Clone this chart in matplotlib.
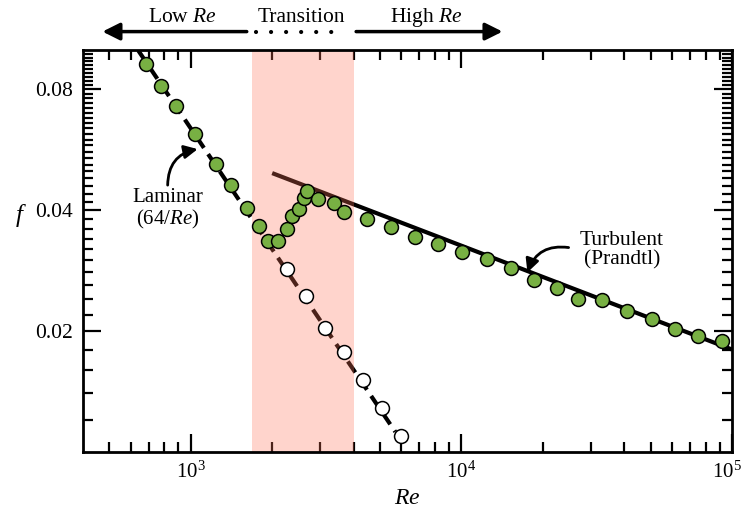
import numpy as np
import matplotlib.pyplot as plt
from matplotlib.ticker import FixedLocator, NullFormatter, FixedFormatter
from matplotlib.transforms import ScaledTranslation

plt.rcParams['font.family'] = 'Liberation Serif'
plt.rcParams['mathtext.fontset'] = 'custom'
plt.rcParams['mathtext.rm'] = 'Liberation Serif'
plt.rcParams['mathtext.it'] = 'Liberation Serif:italic'

# measured friction factor (green)
meas_re = [681, 779, 885, 1037, 1245, 1406, 1608, 1786, 1934, 2094, 2274, 2360,
           2512, 2621, 2683, 2946, 3395, 3678, 4475, 5505, 6714, 8210, 10040,
           12400, 15200, 18500, 22500, 27000, 33000, 41000, 50500, 61700,
           75000, 92000]
meas_f = [0.0924, 0.0818, 0.0729, 0.0620, 0.0521, 0.0463, 0.0406, 0.0366,
          0.0336, 0.0336, 0.0359, 0.0386, 0.0403, 0.0428, 0.0447, 0.0426,
          0.0417, 0.0397, 0.0380, 0.0364, 0.0344, 0.0330, 0.0314, 0.0302,
          0.0287, 0.0268, 0.0256, 0.0240, 0.0239, 0.0224, 0.0215, 0.0203,
          0.0195, 0.0189]

# laminar continuation (white)
lam_re = [2274, 2667, 3133, 3678, 4325, 5082, 5980]
lam_f = [0.0286, 0.0244, 0.0204, 0.0177, 0.0151, 0.01287, 0.01094]

# reference lines
lam_line_re = [640, 5700]
lam_line_f = [0.1, 0.01123]
turb_line_re = [2000, 100000]
turb_line_f = [0.0495, 0.0180]

trans_lo, trans_hi = 1680, 4020

fig = plt.figure(figsize=(7.45, 5.15), dpi=100)
ax = fig.add_axes([0.1114, 0.1223, 0.8712, 0.7797])
ax.set_xscale('log')
ax.set_yscale('log')
ax.set_xlim(400, 1e5)
ax.set_ylim(0.01, 0.1)

ax.plot(lam_line_re, lam_line_f, color='k', lw=3, dashes=(3.2, 1.8), zorder=2)
ax.plot(turb_line_re, turb_line_f, color='k', lw=3, solid_capstyle='butt', zorder=2)
ax.axvspan(trans_lo, trans_hi, color='#FF7358', alpha=0.3, lw=0, zorder=2.5)

green = '#78B043'
ax.plot(meas_re, meas_f, 'o', ms=10, mfc=green, mec='k', mew=1.1, zorder=3)
ax.plot(lam_re, lam_f, 'o', ms=10, mfc='white', mec='k', mew=1.1, zorder=3)

# ticks
ax.xaxis.set_major_locator(FixedLocator([1e3, 1e4, 1e5]))
ax.xaxis.set_major_formatter(FixedFormatter([r'$10^3$', r'$10^4$', r'$10^5$']))
xmin = [500, 600, 700, 800, 900] + [2000, 3000, 4000, 5000, 6000, 7000, 8000, 9000] \
    + [20000, 30000, 40000, 50000, 60000, 70000, 80000, 90000]
ax.xaxis.set_minor_locator(FixedLocator(xmin))
ax.xaxis.set_minor_formatter(NullFormatter())
ax.yaxis.set_major_locator(FixedLocator([0.02, 0.04, 0.08]))
ax.yaxis.set_major_formatter(FixedFormatter(['0.02', '0.04', '0.08']))
ymin = [round(v, 3) for v in np.arange(0.012, 0.0995, 0.002)]
ymin = [v for v in ymin if v not in (0.02, 0.04, 0.08)]
ax.yaxis.set_minor_locator(FixedLocator(ymin))
ax.yaxis.set_minor_formatter(NullFormatter())
ax.tick_params(which='both', direction='in', top=True, right=True, width=1.6)
ax.tick_params(axis='y', labelsize=15.5)
ax.tick_params(axis='x', labelsize=15)
ax.tick_params(which='major', length=13, pad=7)
ax.tick_params(which='minor', length=7)
for s in ax.spines.values():
    s.set_linewidth(2)

# nudge the 10^5 label so it stays inside the figure
last = ax.get_xticklabels()[-1]
last.set_transform(last.get_transform() + ScaledTranslation(-4 / 72, 0, fig.dpi_scale_trans))

ax.set_xlabel(r'$Re$', fontsize=17, labelpad=4)
ax.set_ylabel(r'$f$', fontsize=18, rotation=0, labelpad=14)
ax.yaxis.set_label_coords(-0.095, 0.555)

# annotations
ax.text(822, 0.0402, 'Laminar\n' + r'(64/$Re$)', fontsize=15, ha='center', va='center',
        linespacing=1.05)
ax.annotate('', xy=(1061, 0.0568), xytext=(822, 0.0462),
            arrowprops=dict(arrowstyle='-|>', color='k', lw=2, mutation_scale=20,
                            shrinkA=0, shrinkB=0, connectionstyle='arc3,rad=-0.4'))
ax.text(39140, 0.0318, 'Turbulent\n(Prandtl)', fontsize=15.5, ha='center', va='center',
        linespacing=1.05)
ax.annotate('', xy=(17540, 0.0280), xytext=(24900, 0.0323),
            arrowprops=dict(arrowstyle='-|>', color='k', lw=2, mutation_scale=20,
                            shrinkA=0, shrinkB=0, connectionstyle='arc3,rad=0.4'))

# regime arrows above the plot
tr = ax.get_xaxis_transform()
ay = 1.047
ax.annotate('', xy=(472, ay), xytext=(1611, ay), xycoords=tr, textcoords=tr,
            arrowprops=dict(arrowstyle='-|>', color='k', lw=2.5, mutation_scale=26,
                            shrinkA=0, shrinkB=0))
ax.annotate('', xy=(14190, ay), xytext=(4085, ay), xycoords=tr, textcoords=tr,
            arrowprops=dict(arrowstyle='-|>', color='k', lw=2.5, mutation_scale=26,
                            shrinkA=0, shrinkB=0))
ax.plot([1740, 3717], [ay, ay], transform=tr, color='k', lw=3,
        ls=(0, (0.01, 3.6)), dash_capstyle='round', clip_on=False)
ax.text(934, 1.082, r'Low $Re$', transform=tr, fontsize=15.5, ha='center', va='center')
ax.text(2553, 1.082, 'Transition', transform=tr, fontsize=15.5, ha='center', va='center')
ax.text(7420, 1.082, r'High $Re$', transform=tr, fontsize=15.5, ha='center', va='center')

fig.savefig('out.png', dpi=100)
